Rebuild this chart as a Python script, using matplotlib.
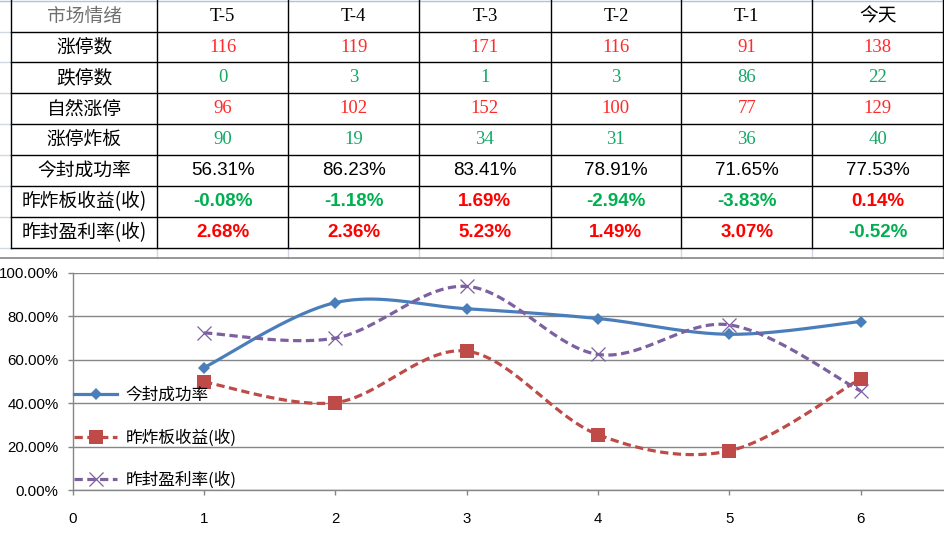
import numpy as np
import matplotlib
matplotlib.use("Agg")
import matplotlib.pyplot as plt
from matplotlib.ticker import FuncFormatter

plt.rcParams['font.family'] = ['Noto Sans CJK SC', 'DejaVu Sans']

# ---- 表格数据 ----
columns = ['T-5', 'T-4', 'T-3', 'T-2', 'T-1', '今天']
row_names = ['涨停数', '跌停数', '自然涨停', '涨停炸板', '今封成功率', '昨炸板收益(收)', '昨封盈利率(收)']
zt_count = [116, 119, 171, 116, 91, 138]
dt_count = [0, 3, 1, 3, 86, 22]
natural_zt = [96, 102, 152, 100, 77, 129]
zt_broken = [90, 19, 34, 31, 36, 40]
seal_rate = [56.31, 86.23, 83.41, 78.91, 71.65, 77.53]
broken_ret = [-0.08, -1.18, 1.69, -2.94, -3.83, 0.14]
seal_profit = [2.68, 2.36, 5.23, 1.49, 3.07, -0.52]

# ---- 折线图数据 ----
x_pts = [1, 2, 3, 4, 5, 6]
line_seal = [56.31, 86.23, 83.41, 78.91, 71.65, 77.53]
line_broken = [49.7, 40.2, 63.9, 25.5, 18.0, 51.2]
line_profit = [72.3, 69.9, 93.7, 62.4, 76.0, 45.6]
series_names = ['今封成功率', '昨炸板收益(收)', '昨封盈利率(收)']

RED = '#FF2A2A'
GREEN = '#12A866'
BRED = '#FF0000'
BGREEN = '#00B050'
GRID = '#D0D7E5'
W, H = 944, 533

fig = plt.figure(figsize=(W / 100, H / 100), dpi=100)
tax = fig.add_axes([0, 0, 1, 1])
tax.set_xlim(0, W)
tax.set_ylim(H, 0)
tax.axis('off')

col_x = [11.3, 157.3, 288.3, 419.3, 550.5, 681.3, 812.3, 943.3]
row_y = [1, 31.7, 62.3, 93.3, 124.3, 155.3, 186.3, 217.3, 248.3]

# 表格外的浅色网格
tax.plot([0, W], [1, 1], color='#A9C4E8', lw=1)
for y in row_y[1:]:
    tax.plot([0, col_x[0]], [y, y], color=GRID, lw=1)
for x in col_x[1:]:
    tax.plot([x, x], [row_y[-1], 257.5], color=GRID, lw=1)

# 表格线
for y in row_y[1:]:
    tax.plot([col_x[0], col_x[-1]], [y, y], color='black', lw=1)
for x in col_x:
    tax.plot([x, x], [0, row_y[-1]], color='black', lw=1)

cx = [(col_x[i] + col_x[i + 1]) / 2 for i in range(7)]
cy = [(row_y[i] + row_y[i + 1]) / 2 for i in range(8)]
FS = 13.5

tax.text(cx[0], cy[0], '市场情绪', ha='center', va='center', fontsize=FS, color='#707070')
for j, c in enumerate(columns):
    fam = ['Liberation Serif', 'Noto Sans CJK SC']
    tax.text(cx[j + 1], cy[0], c, ha='center', va='center', fontsize=FS, family=fam)

for i, name in enumerate(row_names):
    tax.text(cx[0], cy[i + 1], name, ha='center', va='center', fontsize=FS)

int_rows = [(zt_count, RED), (dt_count, GREEN), (natural_zt, RED), (zt_broken, GREEN)]
for i, (vals, col) in enumerate(int_rows):
    for j, v in enumerate(vals):
        tax.text(cx[j + 1], cy[i + 1], str(v), ha='center', va='center', fontsize=FS,
                 color=col, family='Liberation Serif')

for j, v in enumerate(seal_rate):
    tax.text(cx[j + 1], cy[5], f'{v:.2f}%', ha='center', va='center', fontsize=FS,
             color='black', family='Liberation Sans')
for i, vals in enumerate([broken_ret, seal_profit]):
    for j, v in enumerate(vals):
        tax.text(cx[j + 1], cy[6 + i], f'{v:.2f}%', ha='center', va='center', fontsize=FS,
                 color=BRED if v >= 0 else BGREEN, family='Liberation Sans', weight='bold')

# 图表边框
tax.plot([0, W], [257.5, 257.5], color='#868686', lw=1.2)


def smooth(xs, ys, n=40):
    # Excel 风格平滑线 (Catmull-Rom -> Bezier)
    p = np.column_stack([xs, ys]).astype(float)
    pts = np.vstack([p[0], p, p[-1]])
    out = []
    t = np.linspace(0, 1, n)[:, None]
    for i in range(1, len(pts) - 2):
        p0, p1, p2, p3 = pts[i - 1], pts[i], pts[i + 1], pts[i + 2]
        c1 = p1 + (p2 - p0) / 6
        c2 = p2 - (p3 - p1) / 6
        seg = ((1 - t) ** 3) * p1 + 3 * ((1 - t) ** 2) * t * c1 + 3 * (1 - t) * t ** 2 * c2 + t ** 3 * p2
        out.append(seg)
    s = np.vstack(out)
    return s[:, 0], s[:, 1]


# ---- 折线图 ----
x0, x1u = 72.7, 131.3
y0, y100 = 490.0, 272.7
ax = fig.add_axes([x0 / W, (H - y0) / H, (W - x0) / W, (y0 - y100) / H])
ax.patch.set_alpha(0)
ax.set_xlim(0, (W - x0) / x1u)
ax.set_ylim(0, 100)

styles = [
    dict(color='#4A7EBB', ls='-', marker='D', ms=6.6, mew=0),
    dict(color='#BE4B48', ls=(0, (2.6, 1.4)), marker='s', ms=9.5, mew=0),
    dict(color='#7D60A0', ls=(0, (2.6, 1.4)), marker='x', ms=9.5, mew=0.9),
]
for ys, st, name in zip([line_seal, line_broken, line_profit], styles, series_names):
    sx, sy = smooth(x_pts, ys)
    ax.plot(sx, sy, color=st['color'], ls=st['ls'], lw=2.3, solid_capstyle='butt', zorder=3)
    ax.plot(x_pts, ys, ls='none', marker=st['marker'], ms=st['ms'], color=st['color'],
            mew=st['mew'], zorder=4)
    ax.plot([], [], color=st['color'], ls=st['ls'], lw=2.3, marker=st['marker'],
            ms=st['ms'], mew=st['mew'], label=name)

ax.set_yticks([0, 20, 40, 60, 80, 100])
ax.yaxis.set_major_formatter(FuncFormatter(lambda v, p: f'{v:.2f}%'))
ax.set_xticks(range(7))
ax.grid(axis='y', color='#868686', lw=1)
ax.set_axisbelow(True)
for s in ['top', 'right']:
    ax.spines[s].set_visible(False)
for s in ['left', 'bottom']:
    ax.spines[s].set_color('#868686')
    ax.spines[s].set_linewidth(1)
ax.tick_params(axis='both', colors='#868686', labelcolor='black', length=3.6, width=1,
               labelsize=10.8)
ax.tick_params(axis='y', pad=6.5)
ax.tick_params(axis='x', pad=12)
for lab in ax.get_xticklabels() + ax.get_yticklabels():
    lab.set_family(['Liberation Sans', 'DejaVu Sans'])

leg = ax.legend(loc='upper left', bbox_to_anchor=(74 / W, (H - 387) / H),
                bbox_transform=fig.transFigure, frameon=False, fontsize=12,
                handlelength=2.6, handletextpad=0.5, labelspacing=1.5,
                borderpad=0, borderaxespad=0, numpoints=1)

fig.savefig('out.png', dpi=100)
